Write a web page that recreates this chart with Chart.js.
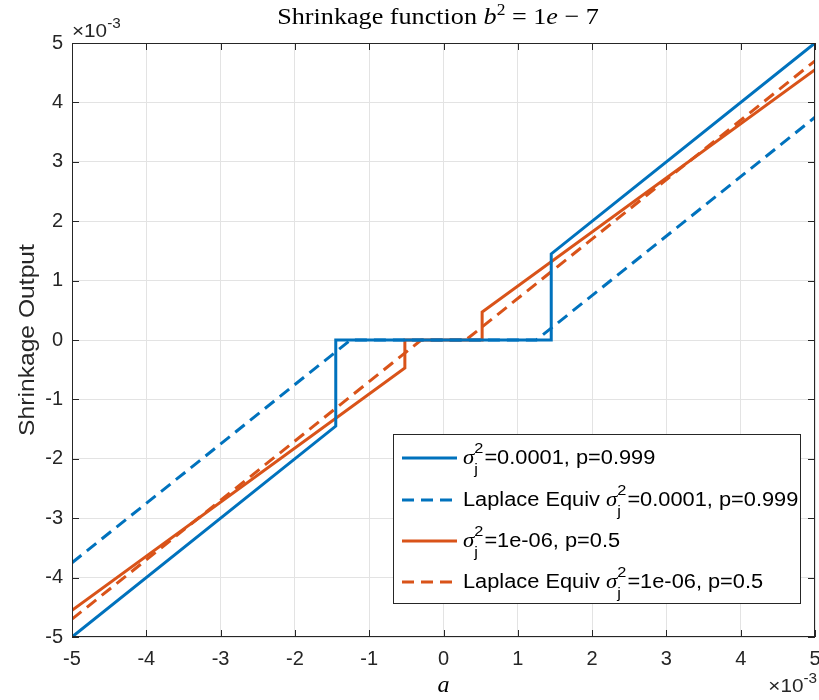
<!DOCTYPE html>
<html>
<head>
<meta charset="utf-8">
<script src="https://cdn.jsdelivr.net/npm/chart.js@4.4.1/dist/chart.umd.min.js"></script>
<style>
  body { margin: 0; background: #fff; }
</style>
</head>
<body>
<canvas id="chart" width="819" height="700"></canvas>
<script>
// all values in units of 1e-3 (the exponent is drawn next to the axes)
const hardX = [-5, -1.45, -1.45, 1.45, 1.45, 5];
const hardY = [-5, -1.45, 0, 0, 1.45, 5];
const hardLapX = [-5, -1.25, 1.25, 5];
const hardLapY = [-3.75, 0, 0, 3.75];
const softX = [-5, -0.52, -0.52, 0.52, 0.52, 5];
const softY = [-4.55, -0.47, 0, 0, 0.47, 4.55];
const softLapX = [-5, -0.3, 0.3, 5];
const softLapY = [-4.7, 0, 0, 4.7];

const xTicks = [-5, -4, -3, -2, -1, 0, 1, 2, 3, 4, 5];
const yTicks = [-5, -4, -3, -2, -1, 0, 1, 2, 3, 4, 5];

// legend: text before sigma, text after sigma_j^2
const legendPre = ['', 'Laplace Equiv ', '', 'Laplace Equiv '];
const legendPost = ['=0.0001, p=0.999', '=0.0001, p=0.999', '=1e-06, p=0.5', '=1e-06, p=0.5'];

const BLUE = '#0072BD';
const ORANGE = '#D95319';
const AXIS = '#262626';
const SANS = '"Liberation Sans", Arial, sans-serif';
const SERIF = '"Liberation Serif", "DejaVu Serif", serif';
const DASH = [12, 7];
const SX = 1.09; // the reference text runs a bit wide

function pts(xs, ys) {
  return xs.map((x, i) => ({ x: x, y: ys[i] }));
}

// draw text stretched horizontally by SX, returns advance
function wtext(ctx, s, x, y) {
  ctx.save();
  ctx.translate(x, y);
  ctx.scale(SX, 1);
  ctx.fillText(s, 0, 0);
  ctx.restore();
  return ctx.measureText(s).width * SX;
}

function superExp(ctx, x, y, align) {
  // draws "×10^-3" with baseline y
  ctx.fillStyle = AXIS;
  ctx.textBaseline = 'alphabetic';
  ctx.textAlign = 'left';
  ctx.font = '19px ' + SANS;
  const w1 = ctx.measureText('\u00d710').width * SX;
  ctx.font = '14px ' + SANS;
  const w2 = ctx.measureText('-3').width * SX;
  let x0 = align === 'right' ? x - w1 - w2 : x;
  ctx.font = '19px ' + SANS;
  wtext(ctx, '\u00d710', x0, y);
  ctx.font = '14px ' + SANS;
  wtext(ctx, '-3', x0 + w1, y - 9);
}

const decor = {
  id: 'decor',
  afterDraw(chart) {
    const ctx = chart.ctx;
    const a = chart.chartArea;
    const xs = chart.scales.x, ys = chart.scales.y;
    ctx.save();

    // axes box + inward ticks
    ctx.strokeStyle = AXIS;
    ctx.lineWidth = 1;
    ctx.strokeRect(a.left + 0.5, a.top + 0.5, a.right - a.left - 1, a.bottom - a.top - 1);
    ctx.beginPath();
    for (const v of xTicks) {
      const px = Math.round(xs.getPixelForValue(v)) + 0.5;
      ctx.moveTo(px, a.bottom); ctx.lineTo(px, a.bottom - 7);
      ctx.moveTo(px, a.top); ctx.lineTo(px, a.top + 7);
    }
    for (const v of yTicks) {
      const py = Math.round(ys.getPixelForValue(v)) + 0.5;
      ctx.moveTo(a.left, py); ctx.lineTo(a.left + 7, py);
      ctx.moveTo(a.right, py); ctx.lineTo(a.right - 7, py);
    }
    ctx.stroke();

    // exponents
    superExp(ctx, a.left, 37, 'left');
    superExp(ctx, a.right + 2, 692, 'right');

    // title
    ctx.fillStyle = '#000';
    ctx.textBaseline = 'alphabetic';
    ctx.textAlign = 'left';
    const parts = [
      ['Shrinkage function ', '24px ' + SERIF, 0],
      ['b', 'italic 24px ' + SERIF, 0],
      ['2', '16px ' + SERIF, -9],
      [' = 1', '24px ' + SERIF, 0],
      ['e', 'italic 24px ' + SERIF, 0],
      [' \u2212 7', '24px ' + SERIF, 0]
    ];
    let tw = 0;
    for (const p of parts) { ctx.font = p[1]; tw += ctx.measureText(p[0]).width * SX; }
    let tx = 438 - tw / 2;
    for (const p of parts) {
      ctx.font = p[1];
      tx += wtext(ctx, p[0], tx, 24 + p[2]);
    }

    // x label
    ctx.font = 'italic 24px ' + SERIF;
    ctx.textAlign = 'center';
    ctx.fillText('a', (a.left + a.right) / 2, 692);

    // y label
    ctx.save();
    ctx.translate(28, (a.top + a.bottom) / 2);
    ctx.rotate(-Math.PI / 2);
    ctx.font = '22px ' + SANS;
    ctx.textBaseline = 'middle';
    ctx.fillStyle = AXIS;
    ctx.scale(1.12, 1);
    ctx.fillText('Shrinkage Output', 0, 0);
    ctx.restore();

    // legend
    const lx = 393, ly = 434, lw = 408, lh = 170;
    ctx.fillStyle = '#fff';
    ctx.fillRect(lx, ly, lw, lh);
    ctx.strokeStyle = AXIS;
    ctx.strokeRect(lx + 0.5, ly + 0.5, lw - 1, lh - 1);
    const rows = [458, 500, 541, 582];
    const dsets = chart.data.datasets;
    ctx.textAlign = 'left';
    ctx.textBaseline = 'middle';
    rows.forEach((ry, i) => {
      ctx.strokeStyle = dsets[i].borderColor;
      ctx.lineWidth = 3;
      ctx.setLineDash(dsets[i].borderDash || []);
      ctx.beginPath();
      ctx.moveTo(402, ry); ctx.lineTo(457, ry);
      ctx.stroke();
      ctx.setLineDash([]);
      ctx.fillStyle = '#000';
      let x = 463;
      ctx.font = '20px ' + SANS;
      x += wtext(ctx, legendPre[i], x, ry);
      ctx.font = 'italic 21px ' + SERIF;
      x += wtext(ctx, '\u03c3', x, ry);
      ctx.font = '15px ' + SANS;
      wtext(ctx, '2', x, ry - 9);
      wtext(ctx, 'j', x, ry + 12);
      x += ctx.measureText('2').width * SX + 1;
      ctx.font = '20px ' + SANS;
      wtext(ctx, legendPost[i], x, ry);
    });

    ctx.restore();
  }
};

function fixTicks(list) {
  return function (scale) {
    scale.ticks = list.map(v => ({ value: v }));
  };
}

new Chart(document.getElementById('chart'), {
  type: 'line',
  data: {
    datasets: [
      { data: pts(hardX, hardY), borderColor: BLUE, borderWidth: 3 },
      { data: pts(hardLapX, hardLapY), borderColor: BLUE, borderWidth: 3, borderDash: DASH },
      { data: pts(softX, softY), borderColor: ORANGE, borderWidth: 3 },
      { data: pts(softLapX, softLapY), borderColor: ORANGE, borderWidth: 3, borderDash: DASH }
    ]
  },
  options: {
    responsive: false,
    animation: false,
    elements: { point: { radius: 0 }, line: { tension: 0, borderCapStyle: 'butt' } },
    layout: { padding: { top: 43, right: 4, left: 0, bottom: 0 } },
    plugins: { legend: { display: false }, tooltip: { enabled: false } },
    scales: {
      x: {
        type: 'linear', min: -5, max: 5,
        afterBuildTicks: fixTicks(xTicks),
        afterFit(s) { s.height = 63; s.paddingLeft = 0; s.paddingRight = 0; },
        grid: { color: '#e3e3e3', drawTicks: false },
        border: { display: false },
        ticks: { color: AXIS, padding: 10, font: { family: SANS, size: 20 }, callback: v => String(v), maxRotation: 0 }
      },
      y: {
        type: 'linear', min: -5, max: 5,
        afterBuildTicks: fixTicks(yTicks),
        afterFit(s) { s.width = 72; s.paddingTop = 0; s.paddingBottom = 0; },
        grid: { color: '#e3e3e3', drawTicks: false },
        border: { display: false },
        ticks: { color: AXIS, padding: 9, font: { family: SANS, size: 20 }, callback: v => String(v) }
      }
    }
  },
  plugins: [decor]
});
</script>
</body>
</html>
